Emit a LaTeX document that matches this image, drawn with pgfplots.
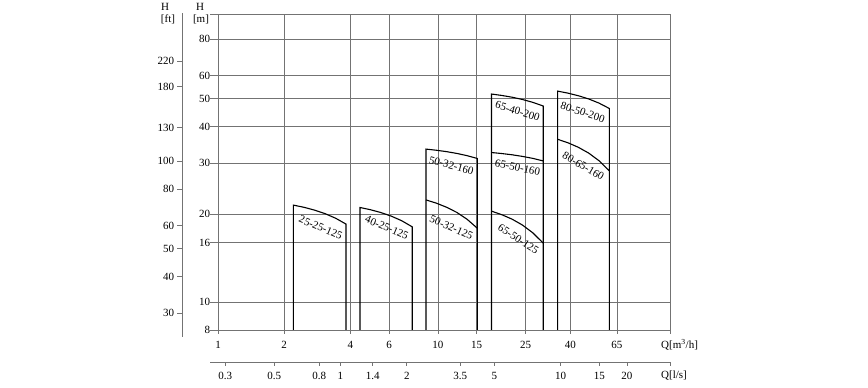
\documentclass[border=0pt]{standalone}
\usepackage{fontspec}
\setmainfont{Liberation Serif}
\usepackage{pgfplots}
\pgfplotsset{compat=1.18}
\begin{document}
\begin{tikzpicture}[x=1pt,y=1pt]
\useasboundingbox (0,0) rectangle (868,388);
\pgfplotsset{every axis/.append style={font=\fontsize{11}{13}\selectfont}}
% main axis: Q [m3/h] vs H [m]
\begin{axis}[
  at={(218pt,58pt)}, anchor=south west, scale only axis,
  width=452pt, height=316pt,
  xmode=log, ymode=log, xmin=1, xmax=113.4, ymin=8, ymax=97.6,
  xtick={1,2,4,6,10,15,25,40,65,113.4},
  xticklabels={1,2,4,6,10,15,25,40,65,{}},
  ytick={8,10,16,20,30,40,50,60,80,97.6},
  yticklabels={8,10,16,20,30,40,50,60,80,{}},
  minor xtick={}, minor ytick={},
  xtick pos=bottom, ytick pos=left,
  xticklabel style={yshift=-3pt},
  grid=major, major grid style={black!55, line width=0.6pt},
  axis line style={black!55, line width=0.6pt},
  tick align=outside,
  xtick style={black!55, line width=0.6pt, /pgfplots/major tick length=4pt},
  ytick style={black!55, line width=0.6pt, /pgfplots/major tick length=8pt},
  clip=false,
]
\addplot[black, line width=1.1pt] coordinates {(2.2,8) (2.2,21.50) (2.46,21.13) (2.75,20.66) (3.07,20.09) (3.43,19.37) (3.82,18.50) (3.82,8)};
\addplot[black, line width=1.1pt] coordinates {(4.42,8) (4.42,21.10) (4.93,20.73) (5.50,20.27) (6.14,19.70) (6.85,18.99) (7.64,18.10) (7.64,8)};
\addplot[black, line width=1.1pt] coordinates {(8.82,8) (8.82,33.50) (9.82,33.20) (10.94,32.83) (12.18,32.37) (13.56,31.80) (15.1,31.10) (15.1,8)};
\addplot[black, line width=1.1pt] coordinates {(8.82,22.40) (9.82,21.84) (10.94,21.14) (12.18,20.29) (13.56,19.22) (15.1,17.90)};
\addplot[black, line width=1.1pt] coordinates {(17.5,8) (17.5,51.80) (19.5,51.22) (21.74,50.50) (24.23,49.60) (27.01,48.48) (30.1,47.10) (30.1,8)};
\addplot[black, line width=1.1pt] coordinates {(17.5,32.60) (19.5,32.34) (21.74,32.02) (24.23,31.61) (27.01,31.12) (30.1,30.50)};
\addplot[black, line width=1.1pt] coordinates {(17.5,20.50) (19.5,19.93) (21.74,19.23) (24.23,18.35) (27.01,17.25) (30.1,15.90)};
\addplot[black, line width=1.1pt] coordinates {(35,8) (35,53.00) (38.99,52.16) (43.44,51.11) (48.40,49.82) (53.92,48.21) (60.1,46.20) (60.1,8)};
\addplot[black, line width=1.1pt] coordinates {(35,36.20) (38.99,35.21) (43.44,33.98) (48.40,32.46) (53.92,30.56) (60.1,28.20)};
\node[rotate=-23] at (axis cs:2.93,18.0) {25-25-125};
\node[rotate=-23] at (axis cs:5.85,18.0) {40-25-125};
\node[rotate=-15] at (axis cs:11.5,29.4) {50-32-160};
\node[rotate=-24] at (axis cs:11.5,18.0) {50-32-125};
\node[rotate=-17] at (axis cs:23.0,45.2) {65-40-200};
\node[rotate=-12] at (axis cs:23.0,28.9) {65-50-160};
\node[rotate=-33] at (axis cs:23.2,16.5) {65-50-125};
\node[rotate=-18] at (axis cs:45.5,44.8) {80-50-200};
\node[rotate=-30] at (axis cs:45.8,29.3) {80-65-160};
\end{axis}
% feet axis
\begin{axis}[
  at={(182pt,51pt)}, anchor=south west, scale only axis,
  width=20pt, height=324pt,
  ymode=log, ymin=24.83, ymax=322.4, xmin=0, xmax=1,
  hide x axis, axis y line*=left,
  ytick={30,40,50,60,80,100,130,180,220},
  yticklabels={30,40,50,60,80,100,130,180,220},
  minor ytick={},
  axis line style={black!55, line width=0.6pt},
  tick align=outside,
  ytick style={black!55, line width=0.6pt, /pgfplots/major tick length=5pt},
]
\addplot[draw=none] coordinates {(0,30)};
\end{axis}
% l/s axis
\begin{axis}[
  at={(210pt,26pt)}, anchor=south west, scale only axis,
  width=460pt, height=10pt,
  xmode=log, xmin=0.2555, xmax=31.36, ymin=0, ymax=1,
  hide y axis, axis x line*=bottom,
  xtick={0.3,0.5,0.8,1,1.4,2,3.5,5,10,15,20,31.36},
  xticklabels={0.3,0.5,0.8,1,1.4,2,3.5,5,10,15,20,{}},
  minor xtick={},
  xticklabel style={yshift=-2pt},
  axis line style={black!55, line width=0.6pt},
  tick align=outside,
  xtick style={black!55, line width=0.6pt, /pgfplots/major tick length=4pt},
]
\addplot[draw=none] coordinates {(1,0.5)};
\end{axis}
\node at (165,381) {\fontsize{11}{13}\selectfont H};
\node at (168,369) {\fontsize{11}{13}\selectfont [ft]};
\node at (200,381) {\fontsize{11}{13}\selectfont H};
\node at (201,369) {\fontsize{11}{13}\selectfont [m]};
\node[anchor=west, inner sep=0pt] at (661,43) {\fontsize{11}{13}\selectfont Q[m\textsuperscript{3}/h]};
\node[anchor=west, inner sep=0pt] at (661,12) {\fontsize{11}{13}\selectfont Q[l/s]};
\end{tikzpicture}
\end{document}
